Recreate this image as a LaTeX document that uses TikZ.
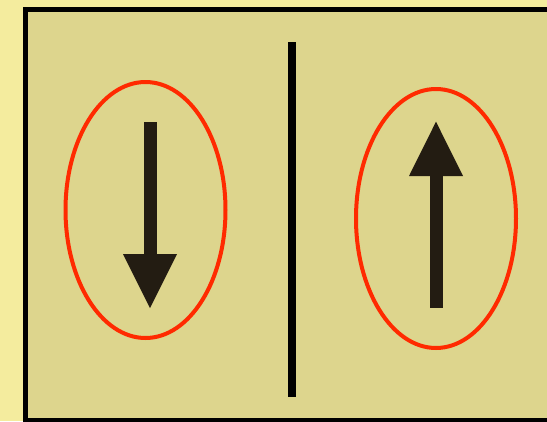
\documentclass[tikz,border=0pt]{standalone}
\usepackage{tikz}
\usetikzlibrary{shapes.geometric}
\definecolor{outerbg}{HTML}{F4EC9E}
\definecolor{innerbg}{HTML}{DDD58D}
\definecolor{arrowcol}{HTML}{231C12}
\definecolor{ringred}{HTML}{FF2A00}
\tikzset{
  ring/.style={draw=ringred, line width=4pt},
  shaft/.style={fill=arrowcol},
  divider/.style={draw=black, line width=8pt}
}
\begin{document}
\begin{tikzpicture}[x=1pt,y=-1pt]
\useasboundingbox (0,0) rectangle (547,421);
\clip (0,0) rectangle (547,421);
\fill[outerbg] (0,0) rectangle (547,421);
\draw[fill=innerbg, line width=5pt] (25.5,9.5) rectangle (560,420);
% dividing line
\coordinate (dtop) at (291.7,42);
\coordinate (dbot) at (291.7,397);
\draw[divider] (dtop) -- (dbot);
% left ellipse and down arrow
\node[ring, ellipse, minimum width=160pt, minimum height=256pt, inner sep=0pt] (L) at (145.5,210) {};
\fill[shaft] (143.5,121.7) rectangle (156.5,256);
\fill[shaft] (123,254) -- (177,254) -- (150,308) -- cycle;
% right ellipse and up arrow
\node[ring, ellipse, minimum width=160pt, minimum height=259pt, inner sep=0pt] (R) at (436,218.5) {};
\fill[shaft] (429.5,174) rectangle (442.5,308);
\fill[shaft] (409,176) -- (463,176) -- (436,121.7) -- cycle;
\end{tikzpicture}
\end{document}
